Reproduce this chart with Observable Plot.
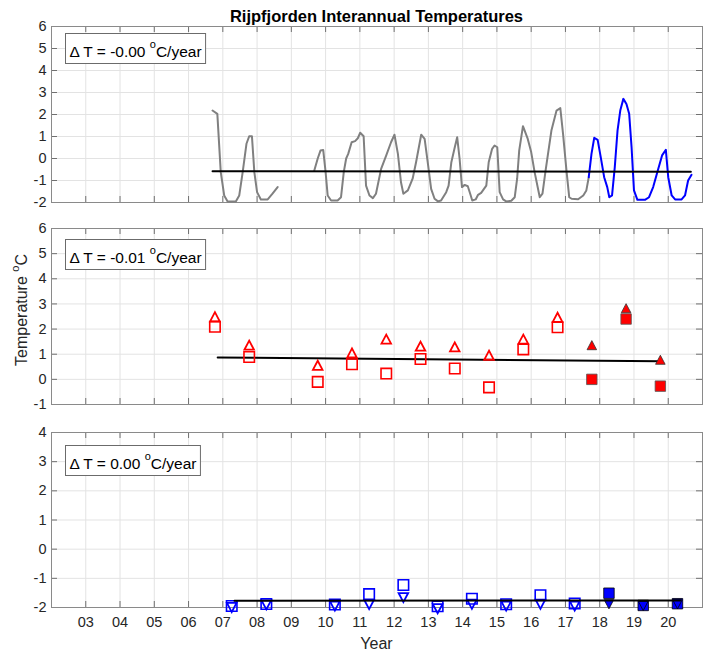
<!DOCTYPE html>
<html><head><meta charset="utf-8">
<script src="https://cdn.jsdelivr.net/npm/d3@7"></script>
<script src="https://cdn.jsdelivr.net/npm/@observablehq/plot@0.6"></script>
<style>
body{margin:0;background:#fff;}
#fig{position:relative;width:709px;height:657px;background:#fff;}
#fig svg{position:absolute;left:0;overflow:visible;}
</style></head><body><div id="fig"></div>
<script>
// ---------- data ----------
const xTicks = [2003,2004,2005,2006,2007,2008,2009,2010,2011,2012,2013,2014,2015,2016,2017,2018,2019,2020];
const topTicks = [-2,-1,0,1,2,3,4,5,6];
const midTicks = [-1,0,1,2,3,4,5,6];
const botTicks = [-2,-1,0,1,2,3,4];

const title = "Rijpfjorden Interannual Temperatures";
const trendLabels = ["-0.00", "-0.01", "0.00"];

// top panel: temperature time series (gray = earlier moorings, blue = recent)
const grayA = [[2006.70,2.18],[2006.84,2.03],[2006.94,-0.62],[2007.04,-1.68],[2007.14,-1.95],[2007.38,-1.95],[2007.48,-1.68],[2007.58,-0.62],[2007.69,0.67],[2007.77,1.01],[2007.85,1.01],[2007.92,-0.62],[2008.00,-1.53],[2008.11,-1.86],[2008.31,-1.86],[2008.45,-1.60],[2008.60,-1.30]];
const grayB = [[2009.67,-0.55],[2009.77,0.00],[2009.85,0.36],[2009.93,0.39],[2010.00,-0.62],[2010.06,-1.68],[2010.16,-1.91],[2010.35,-1.91],[2010.45,-1.76],[2010.53,-0.62],[2010.60,0.00],[2010.66,0.21],[2010.76,0.74],[2010.86,0.79],[2010.94,0.92],[2011.01,1.17],[2011.11,1.01],[2011.18,-1.23],[2011.28,-1.68],[2011.38,-1.80],[2011.47,-1.60],[2011.62,-0.47],[2011.77,0.14],[2011.91,0.74],[2012.01,1.08],[2012.11,0.21],[2012.20,-1.08],[2012.27,-1.60],[2012.40,-1.45],[2012.54,-0.92],[2012.64,-0.17],[2012.79,1.08],[2012.89,0.89],[2012.98,-0.17],[2013.08,-1.38],[2013.18,-1.83],[2013.28,-1.95],[2013.37,-1.91],[2013.52,-1.53],[2013.59,-1.23],[2013.67,-0.17],[2013.76,0.44],[2013.84,0.97],[2013.91,0.00],[2013.98,-1.30],[2014.06,-1.20],[2014.15,-1.26],[2014.22,-1.60],[2014.28,-1.91],[2014.38,-1.86],[2014.45,-1.65],[2014.54,-1.56],[2014.69,-1.23],[2014.76,-0.17],[2014.86,0.44],[2014.93,0.59],[2015.01,0.51],[2015.08,-1.53],[2015.18,-1.86],[2015.27,-1.95],[2015.42,-1.92],[2015.52,-1.76],[2015.59,-0.92],[2015.65,0.36],[2015.76,1.47],[2015.90,0.89],[2016.00,0.29],[2016.10,-0.62],[2016.25,-1.76],[2016.33,-1.60],[2016.42,-0.55],[2016.59,1.27],[2016.74,2.18],[2016.85,2.29],[2016.93,1.12],[2017.03,-0.55],[2017.11,-1.76],[2017.18,-1.83],[2017.37,-1.85],[2017.52,-1.68],[2017.61,-1.45],[2017.68,-0.85]];
const blueC = [[2017.68,-0.85],[2017.76,0.21],[2017.84,0.94],[2017.94,0.85],[2018.03,0.06],[2018.13,-0.85],[2018.22,-1.30],[2018.28,-1.76],[2018.36,-1.68],[2018.44,-0.39],[2018.52,1.27],[2018.60,2.18],[2018.69,2.71],[2018.78,2.48],[2018.86,2.03],[2018.93,0.51],[2019.00,-1.45],[2019.10,-1.88],[2019.32,-1.88],[2019.44,-1.76],[2019.56,-1.30],[2019.71,-0.47],[2019.82,0.14],[2019.93,0.39],[2020.00,-0.85],[2020.10,-1.68],[2020.20,-1.86],[2020.39,-1.86],[2020.49,-1.68],[2020.58,-1.00],[2020.68,-0.74]];
const topTrend = [[2006.70,-0.58],[2020.66,-0.60]];

// middle panel: autumn maxima (triangles) and means (squares)
const midYears  = [2006.77,2007.77,2009.77,2010.77,2011.77,2012.77,2013.77,2014.77,2015.77,2016.77,2017.77,2018.77,2019.77];
const midTri    = [2.49,1.36,0.56,1.05,1.60,1.32,1.29,0.96,1.60,2.47,1.36,2.83,0.78];
const midSq     = [2.09,0.89,-0.10,0.60,0.23,0.81,0.43,-0.32,1.19,2.07,0.00,2.40,-0.27];
const midFilled = [false,false,false,false,false,false,false,false,false,false,true,true,true];
const midTrend  = [[2006.85,0.87],[2019.77,0.72]];

// bottom panel: spring minima (down triangles) and means (squares)
const botYears  = [2007.26,2008.27,2010.27,2011.27,2012.27,2013.27,2014.27,2015.27,2016.27,2017.27,2018.27,2019.27,2020.27];
const botSq     = [-1.95,-1.88,-1.90,-1.54,-1.23,-1.96,-1.70,-1.89,-1.58,-1.86,-1.51,-1.93,-1.87];
const botTri    = [-2.00,-1.91,-1.95,-1.90,-1.66,-2.04,-1.89,-1.95,-1.89,-1.95,-1.89,-1.95,-1.89];
const botFilled = [false,false,false,false,false,false,false,false,false,false,true,true,true];
const botTrend  = [[2007.34,-1.77],[2020.36,-1.76]];

// ---------- layout / style ----------
const FONT = '"Liberation Sans", Arial, Helvetica, sans-serif';
const W = 709, ML = 51, MR = 7, PW = W - ML - MR;
const GRID = "#e3e3e3", TICK = "#707070", FRAME = "#8a8a8a";

const sqSym = {draw(c, s){ const h = Math.sqrt(s)/2; c.moveTo(-h,-h); c.lineTo(h,-h); c.lineTo(h,h); c.lineTo(-h,h); c.closePath(); }};
const upSym = {draw(c, s){ const w = Math.sqrt(s)/2, h = w*0.95; c.moveTo(0,-h); c.lineTo(w,h); c.lineTo(-w,h); c.closePath(); }};
const dnSym = {draw(c, s){ const w = Math.sqrt(s)/2, h = w*0.95; c.moveTo(0,h); c.lineTo(w,-h); c.lineTo(-w,-h); c.closePath(); }};

function panel({height, mt, mb, yDomain, yTicks, showX, marks}) {
  const ph = height - mt - mb, tk = 6;
  const all = [
    Plot.ruleX(xTicks, {stroke: GRID}),
    Plot.ruleY(yTicks, {stroke: GRID}),
    Plot.tickX(xTicks, {stroke: TICK, insetTop: ph - tk}),
    Plot.tickX(xTicks, {stroke: TICK, insetBottom: ph - tk}),
    Plot.tickY(yTicks, {stroke: TICK, insetLeft: PW - tk}),
    Plot.tickY(yTicks, {stroke: TICK, insetRight: PW - tk}),
    Plot.frame({stroke: FRAME}),
    Plot.axisY({ticks: yTicks, tickSize: 0, tickPadding: 5, tickFormat: d => String(d), label: null, fontSize: 14.5, fill: "#262626"}),
    ...marks
  ];
  if (showX) all.push(Plot.axisX({ticks: xTicks, tickSize: 0, tickPadding: 9, tickFormat: d => String(d).slice(2), label: null, fontSize: 14.5, fill: "#262626"}));
  return Plot.plot({
    width: W, height, marginLeft: ML, marginRight: MR, marginTop: mt, marginBottom: mb,
    x: {domain: [2002, 2021], axis: showX ? undefined : null},
    y: {domain: yDomain},
    style: {fontFamily: FONT, color: "#262626", background: "transparent", overflow: "visible"},
    marks: all
  });
}

const lineOpt = (color) => ({x: d => d[0], y: d => d[1], stroke: color, strokeWidth: 2, strokeLinejoin: "round"});
const trendOpt = {x: d => d[0], y: d => d[1], stroke: "#000", strokeWidth: 2};

const p1 = panel({height: 210, mt: 26, mb: 8, yDomain: [-2, 6], yTicks: topTicks, showX: false, marks: [
  Plot.line(grayA, lineOpt("#808080")),
  Plot.line(grayB, lineOpt("#808080")),
  Plot.line(blueC, lineOpt("#0000ff")),
  Plot.line(topTrend, trendOpt)
]});

const midIdx = midYears.map((_, i) => i);
const midOpen = midIdx.filter(i => !midFilled[i]), midFull = midIdx.filter(i => midFilled[i]);
const p2 = panel({height: 200, mt: 18, mb: 6, yDomain: [-1, 6], yTicks: midTicks, showX: false, marks: [
  Plot.line(midTrend, trendOpt),
  Plot.dot(midOpen, {x: i => midYears[i], y: i => midSq[i], symbol: sqSym, r: 5.9, stroke: "#ff0000", fill: "none", strokeWidth: 1.6}),
  Plot.dot(midOpen, {x: i => midYears[i], y: i => midTri[i], symbol: upSym, r: 5.4, stroke: "#ff0000", fill: "none", strokeWidth: 1.8}),
  Plot.dot(midFull, {x: i => midYears[i], y: i => midSq[i], symbol: sqSym, r: 5.9, stroke: "#555", fill: "#ff0000", strokeWidth: 0.8}),
  Plot.dot(midFull, {x: i => midYears[i], y: i => midTri[i], symbol: upSym, r: 5.4, stroke: "#333", fill: "#ff0000", strokeWidth: 0.8})
]});

const botIdx = botYears.map((_, i) => i);
const botOpen = botIdx.filter(i => !botFilled[i]), botFull = botIdx.filter(i => botFilled[i]);
const p3 = panel({height: 247, mt: 22, mb: 50, yDomain: [-2, 4], yTicks: botTicks, showX: true, marks: [
  Plot.dot(botOpen, {x: i => botYears[i], y: i => botSq[i], symbol: sqSym, r: 5.9, stroke: "#0000ff", fill: "none", strokeWidth: 1.6}),
  Plot.dot(botOpen, {x: i => botYears[i], y: i => botTri[i], symbol: dnSym, r: 5.4, stroke: "#0000ff", fill: "none", strokeWidth: 1.8}),
  Plot.dot(botFull, {x: i => botYears[i], y: i => botSq[i], symbol: sqSym, r: 5.9, stroke: "#000", fill: "#0000ff", strokeWidth: 0.8}),
  Plot.dot(botFull, {x: i => botYears[i], y: i => botTri[i], symbol: dnSym, r: 5.4, stroke: "#000", fill: "#0000ff", strokeWidth: 0.8}),
  Plot.line(botTrend, trendOpt)
]});

const fig = document.getElementById("fig");
[[p1, 0], [p2, 210], [p3, 410]].forEach(([p, top]) => { p.style.top = top + "px"; fig.appendChild(p); });

// ---------- texts ----------
function supText(sel, before, after, sup, shift) {
  sel.style("white-space", "pre");
  sel.append("tspan").text(before);
  sel.append("tspan").attr("dy", -shift).attr("font-size", sup).text("o");
  sel.append("tspan").attr("dy", shift).text(after);
}
function annotate(svg, x, y, h, label) {
  const g = d3.select(svg).append("g").attr("text-anchor", "start");
  const rect = g.append("rect").attr("x", x + 0.5).attr("y", y + 0.5).attr("height", h)
    .attr("fill", "#fff").attr("stroke", "#6b6b6b").attr("stroke-width", 1);
  const t = g.append("text").attr("x", x + 4.5).attr("y", y + h - 6.3).attr("text-anchor", "start")
    .attr("font-family", FONT).attr("font-size", 15.5).attr("fill", "#000");
  supText(t, "\u0394 T = " + label + " ", "C/year", 11, 8.5);
  const w = t.node().getComputedTextLength();
  rect.attr("width", w + 8);
}
annotate(p1, 65, 33, 30, trendLabels[0]);
annotate(p2, 65, 29, 30, trendLabels[1]);
annotate(p3, 65, 35, 30, trendLabels[2]);

d3.select(p1).append("text").attr("x", ML + PW / 2).attr("y", 21.5).attr("text-anchor", "middle")
  .attr("font-family", FONT).attr("font-size", 16.5).attr("font-weight", "bold").attr("fill", "#000").text(title);

const yl = d3.select(p2).append("text").attr("transform", "translate(26.5,100) rotate(-90)")
  .attr("text-anchor", "middle").attr("font-family", FONT).attr("font-size", 16).attr("fill", "#262626");
supText(yl, "Temperature ", "C", 11, 8);

d3.select(p3).append("text").attr("x", ML + PW / 2).attr("y", 239).attr("text-anchor", "middle")
  .attr("font-family", FONT).attr("font-size", 16).attr("fill", "#262626").text("Year");
</script></body></html>
